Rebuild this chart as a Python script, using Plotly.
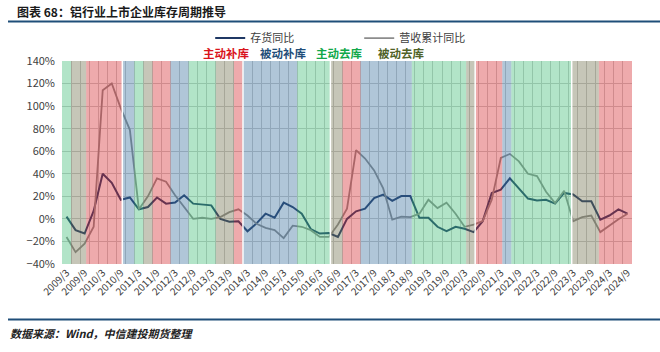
import plotly.graph_objects as go

# ---------------- data ----------------
years = list(range(2009, 2025))
quarter_labels = [f"{y}/{m}" for y in years for m in (3, 6, 9, 12)][:63]  # 2009/3 .. 2024/9

inventory_yoy = [2, -10, -13, 7, 40, 32, 17, 19, 8.5, 10.5, 19, 13.5, 14.5, 21, 13.5, 12.9,
                 12, 0, -2.5, -2.2, -11, -4, 4.6, 1, 14.4, 10.5, 4.6, -9, -13, -12.6, -16, 0,
                 6.7, 9, 18.5, 21.5, 16, 20.3, 20.3, 1, 1, -7, -10.8, -7, -8.7, -11.7, -2, 23,
                 26, 36, 26.8, 18, 16.4, 17, 13.5, 23, 21.6, 15.6, 15.6, -0.7, 3, 8.4, 4.6]

revenue_ytd_yoy = [-16, -29.5, -22, -7, 114, 120, 98, 79, 8.5, 20, 36, 33, 21, 10.5, 0, 1,
                   0, 1.6, 6, 8.5, 3, -4.3, -8, -10, -17, -6, -7, -10, -16, -16, -5, 9,
                   61, 53.5, 43, 27, -0.7, 2, 1.6, 4.6, 17, 9.6, 14.4, 4.6, -7, -5, -2, 17,
                   54, 57.6, 51, 40, 38, 24, 14, 25, -2, 1.6, 3, -11.7, -5.8, -0.4, 4.6]

phase_start = ["2009/1", "2009/5", "2009/10", "2010/10", "2011/2", "2011/5", "2011/8", "2012/2",
               "2012/8", "2013/5", "2013/11", "2014/2", "2015/8", "2016/7", "2016/11", "2017/5",
               "2018/10", "2020/4", "2020/7", "2021/4", "2021/7", "2023/3", "2023/12"]
phase_end = ["2009/4", "2009/9", "2010/9", "2011/1", "2011/4", "2011/7", "2012/1", "2012/7",
             "2013/4", "2013/10", "2014/1", "2015/7", "2016/6", "2016/10", "2017/4", "2018/9",
             "2020/3", "2020/6", "2021/3", "2021/6", "2023/2", "2023/11", "2024/10"]
phase_name = ["主动去库", "被动去库", "主动补库", "被动补库", "主动去库", "被动去库", "主动补库", "被动补库",
              "主动去库", "被动去库", "主动补库", "被动补库", "主动去库", "被动去库", "主动补库", "被动补库",
              "主动去库", "被动去库", "主动补库", "被动补库", "主动去库", "被动去库", "主动补库"]
phase_breaks = ["2010/9", "2014/1", "2016/6", "2020/6", "2023/2"]

phases = ["主动补库", "被动补库", "主动去库", "被动去库"]
phase_fill = {"主动补库": "rgba(212,42,48,0.4)", "被动补库": "rgba(58,112,158,0.4)",
              "主动去库": "rgba(62,188,118,0.4)", "被动去库": "rgba(112,112,78,0.4)"}
phase_text = {"主动补库": "#D9141C", "被动补库": "#1F4E79", "主动去库": "#12A84A", "被动去库": "#4F6228"}


def midx(label):
    y, m = label.split("/")
    return 12 * (int(y) - 2009) + (int(m) - 3)


xq = [midx(q) for q in quarter_labels]

fig = go.Figure()

fig.add_trace(go.Scatter(x=xq, y=inventory_yoy, name="存货同比", mode="lines",
                         line=dict(color="#1F3864", width=2)))
fig.add_trace(go.Scatter(x=xq, y=revenue_ytd_yoy, name="营收累计同比", mode="lines",
                         line=dict(color="#8C8C8C", width=1.8)))

for ph in phases:
    xs, ws = [], []
    for s, e, n in zip(phase_start, phase_end, phase_name):
        if n == ph:
            a, b = midx(s), midx(e)
            xs.append((a + b) / 2)
            ws.append(b - a + 1)
    fig.add_trace(go.Bar(x=xs, y=[180] * len(xs), base=-40, width=ws, yaxis="y2",
                         marker=dict(color=phase_fill[ph], line=dict(width=0)),
                         showlegend=False, hoverinfo="skip"))

for b in phase_breaks:
    xb = midx(b) + 0.5
    fig.add_shape(type="line", xref="x", yref="y", x0=xb, x1=xb, y0=-40, y1=140,
                  line=dict(color="white", width=1.5), layer="above")

tick_idx = [i for i in range(0, len(quarter_labels), 2)]

fig.update_layout(
    width=660, height=352,
    margin=dict(l=62, r=28, t=61, b=88),
    paper_bgcolor="white", plot_bgcolor="white",
    font=dict(family="Noto Sans CJK SC", size=11, color="#404040"),
    barmode="overlay",
    showlegend=True,
    legend=dict(orientation="h", x=0.26, xanchor="left", y=1.113, yanchor="middle",
                font=dict(size=11, color="#404040"), entrywidth=104, entrywidthmode="pixels",
                bgcolor="rgba(0,0,0,0)"),
    xaxis=dict(range=[-1.5, 187.5], tickmode="array",
               tickvals=[xq[i] for i in tick_idx], ticktext=[quarter_labels[i] for i in tick_idx],
               tickangle=-45, showgrid=False, zeroline=False, showline=False, ticks="",
               tickfont=dict(size=10, color="#404040"),
               minor=dict(tick0=1.5, dtick=3, showgrid=True, gridcolor="#CCCCCC", gridwidth=1, ticks="")),
    yaxis=dict(range=[-40, 140], dtick=20, ticksuffix="%", showgrid=True, gridcolor="#CCCCCC",
               zeroline=False, showline=False, ticks="", ticklabelstandoff=6,
               tickfont=dict(size=11, color="#404040")),
    yaxis2=dict(range=[-40, 140], overlaying="y", visible=False),
)

# title, rules, footer
px_x = lambda p: (p - 62) / 570
px_y = lambda p: (264 - p) / 203

fig.add_annotation(text="<b>图表 68：铝行业上市企业库存周期推导</b>", xref="paper", yref="paper",
                   x=px_x(15), y=px_y(12), xanchor="left", yanchor="middle", showarrow=False,
                   font=dict(size=12, color="#1a1a1a"))
fig.add_shape(type="line", xref="paper", yref="paper", x0=px_x(8), x1=px_x(660),
              y0=px_y(21.5), y1=px_y(21.5), line=dict(color="#1F4E79", width=2))
fig.add_shape(type="line", xref="paper", yref="paper", x0=px_x(8), x1=px_x(660),
              y0=px_y(319.5), y1=px_y(319.5), line=dict(color="#1F4E79", width=2))
fig.add_annotation(text="<b><i>数据来源：Wind，中信建投期货整理</i></b>", xref="paper", yref="paper",
                   x=px_x(8), y=px_y(333), xanchor="left", yanchor="middle", showarrow=False,
                   font=dict(size=11, color="#222222"))

label_cx = {"主动补库": 226, "被动补库": 283, "主动去库": 339, "被动去库": 401.5}
for ph in phases:
    fig.add_annotation(text=f"<b>{ph}</b>", xref="paper", yref="paper", x=px_x(label_cx[ph]),
                       y=px_y(53), xanchor="center", yanchor="middle", showarrow=False,
                       font=dict(size=11.5, color=phase_text[ph]))

fig.write_html("out.html")
